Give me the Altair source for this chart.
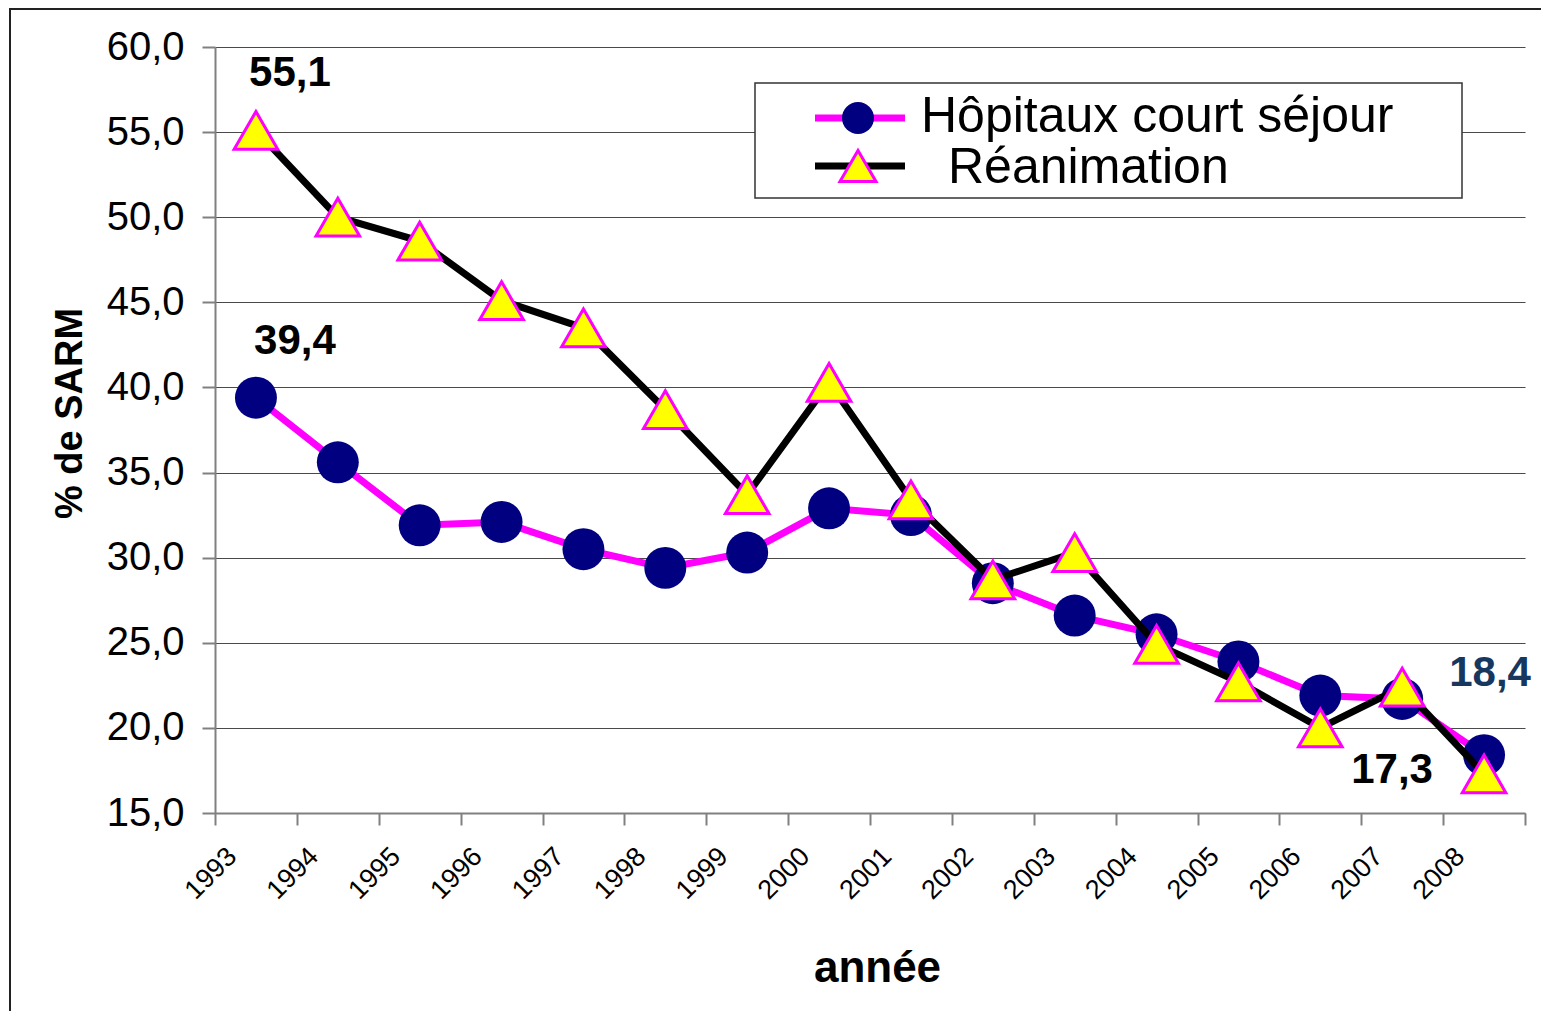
import altair as alt
import pandas as pd

# ---------------- data ----------------
years = ["1993", "1994", "1995", "1996", "1997", "1998", "1999", "2000",
         "2001", "2002", "2003", "2004", "2005", "2006", "2007", "2008"]
hopitaux = [39.4, 35.6, 31.9, 32.1, 30.5, 29.4, 30.3, 32.9,
            32.5, 28.5, 26.6, 25.5, 23.9, 21.9, 21.7, 18.4]
reanimation = [55.1, 50.0, 48.6, 45.1, 43.5, 38.7, 33.7, 40.3,
               33.4, 28.7, 30.3, 24.9, 22.7, 20.0, 22.4, 17.3]
series_names = ["Hôpitaux court séjour", "Réanimation"]
y_ticks = [15, 20, 25, 30, 35, 40, 45, 50, 55, 60]

annot_year = ["1993", "1993", "2008", "2008"]
annot_value = [55.1, 39.4, 18.4, 17.3]
annot_text = ["55,1", "39,4", "18,4", "17,3"]

df_h = pd.DataFrame({"year": years, "value": hopitaux})
df_r = pd.DataFrame({"year": years, "value": reanimation})

FONT = "Liberation Sans"
W, H = 1310, 766

x_enc = alt.X(
    "year:O",
    scale=alt.Scale(type="band", paddingInner=0, paddingOuter=0, domain=years),
    axis=alt.Axis(
        title="année", titleFont=FONT, titleFontSize=44, titleFontWeight="bold",
        titleColor="black", titleX=662, titleY=155, titleBaseline="middle",
        titleAlign="center",
        labelAngle=315, labelAlign="right", labelBaseline="middle",
        labelFont=FONT, labelFontSize=27, labelColor="black",
        labelPadding=27, labelOffset=-24,
        tickBand="extent", tickSize=12, tickColor="#808080", tickWidth=2,
        domainColor="#808080", domainWidth=2, grid=False,
    ),
)
y_enc = alt.Y(
    "value:Q",
    scale=alt.Scale(domain=[15, 60], nice=False, zero=False),
    axis=alt.Axis(
        values=y_ticks,
        labelExpr="replace(format(datum.value, '.1f'), '.', ',')",
        title="% de SARM", titleFont=FONT, titleFontSize=38, titleFontWeight="bold",
        titleColor="black", titleX=-145, titleY=366, titleBaseline="middle",
        titleAlign="center", titleAngle=270,
        labelFont=FONT, labelFontSize=40, labelColor="black", labelPadding=18,
        tickSize=13, tickColor="#808080", tickWidth=2,
        domainColor="#808080", domainWidth=2,
        grid=True, gridColor="#4a4a4a", gridWidth=1.2,
    ),
)

line_h = alt.Chart(df_h).mark_line(color="#FF00FF", strokeWidth=7).encode(x=x_enc, y=y_enc)
pts_h = alt.Chart(df_h).mark_point(
    shape="circle", filled=True, fill="#000080", size=1760, opacity=1, strokeWidth=0
).encode(x="year:O", y="value:Q")
line_r = alt.Chart(df_r).mark_line(color="black", strokeWidth=7).encode(x="year:O", y="value:Q")
pts_r = alt.Chart(df_r).mark_point(
    shape="triangle-up", filled=True, fill="#FFFF00", stroke="#FF00FF",
    strokeWidth=3, size=1900, opacity=1
).encode(x="year:O", y="value:Q")

def annot(i, dx, dy, color):
    d = pd.DataFrame({"year": [annot_year[i]], "value": [annot_value[i]], "t": [annot_text[i]]})
    return alt.Chart(d).mark_text(
        font=FONT, fontSize=42, fontWeight="bold", color=color,
        align="center", baseline="middle", dx=dx, dy=dy
    ).encode(x="year:O", y="value:Q", text="t:N")

a1 = annot(0, 34, -57, "black")
a2 = annot(1, 39, -57, "black")
a3 = annot(2, 6, -82, "#17375E")
a4 = annot(3, -92, -4, "black")

# ---------------- manual legend ----------------
one = pd.DataFrame({"k": [0]})
leg_box = alt.Chart(one).mark_rect(fill="white", stroke="#333333", strokeWidth=1.5).encode(
    x=alt.value(540), x2=alt.value(1247), y=alt.value(36), y2=alt.value(151))
leg_l1 = alt.Chart(one).mark_rule(color="#FF00FF", strokeWidth=7).encode(
    x=alt.value(600), x2=alt.value(690), y=alt.value(71))
leg_p1 = alt.Chart(one).mark_point(shape="circle", filled=True, fill="#000080",
                                   size=1024, opacity=1, strokeWidth=0).encode(
    x=alt.value(643), y=alt.value(71))
leg_l2 = alt.Chart(one).mark_rule(color="black", strokeWidth=7).encode(
    x=alt.value(600), x2=alt.value(690), y=alt.value(119))
leg_p2 = alt.Chart(one).mark_point(shape="triangle-up", filled=True, fill="#FFFF00",
                                   stroke="#FF00FF", strokeWidth=3, size=1300, opacity=1).encode(
    x=alt.value(643), y=alt.value(119))
leg_t1 = alt.Chart(pd.DataFrame({"t": [series_names[0]]})).mark_text(
    font=FONT, fontSize=50, align="left", baseline="middle", color="black").encode(
    x=alt.value(706), y=alt.value(70), text="t:N")
leg_t2 = alt.Chart(pd.DataFrame({"t": [series_names[1]]})).mark_text(
    font=FONT, fontSize=50, align="left", baseline="middle", color="black").encode(
    x=alt.value(733), y=alt.value(121), text="t:N")

# ---------------- slide frame ----------------
frame_left = alt.Chart(one).mark_rule(color="#222222", strokeWidth=2).encode(
    x=alt.value(-205), y=alt.value(-39), y2=alt.value(970))
frame_top = alt.Chart(one).mark_rule(color="#222222", strokeWidth=2).encode(
    x=alt.value(-206), x2=alt.value(1330), y=alt.value(-38))

chart = alt.layer(
    line_h, pts_h, line_r, pts_r, a1, a2, a3, a4,
    leg_box, leg_l1, leg_p1, leg_l2, leg_p2, leg_t1, leg_t2,
    frame_left, frame_top,
).properties(
    width=W, height=H,
    padding={"left": 207, "top": 39, "right": 16, "bottom": 198},
    autosize=alt.AutoSizeParams(type="none"),
    background="white",
).configure_view(stroke=None)

chart.save("out.html", embed_options={"renderer": "svg", "actions": False})
